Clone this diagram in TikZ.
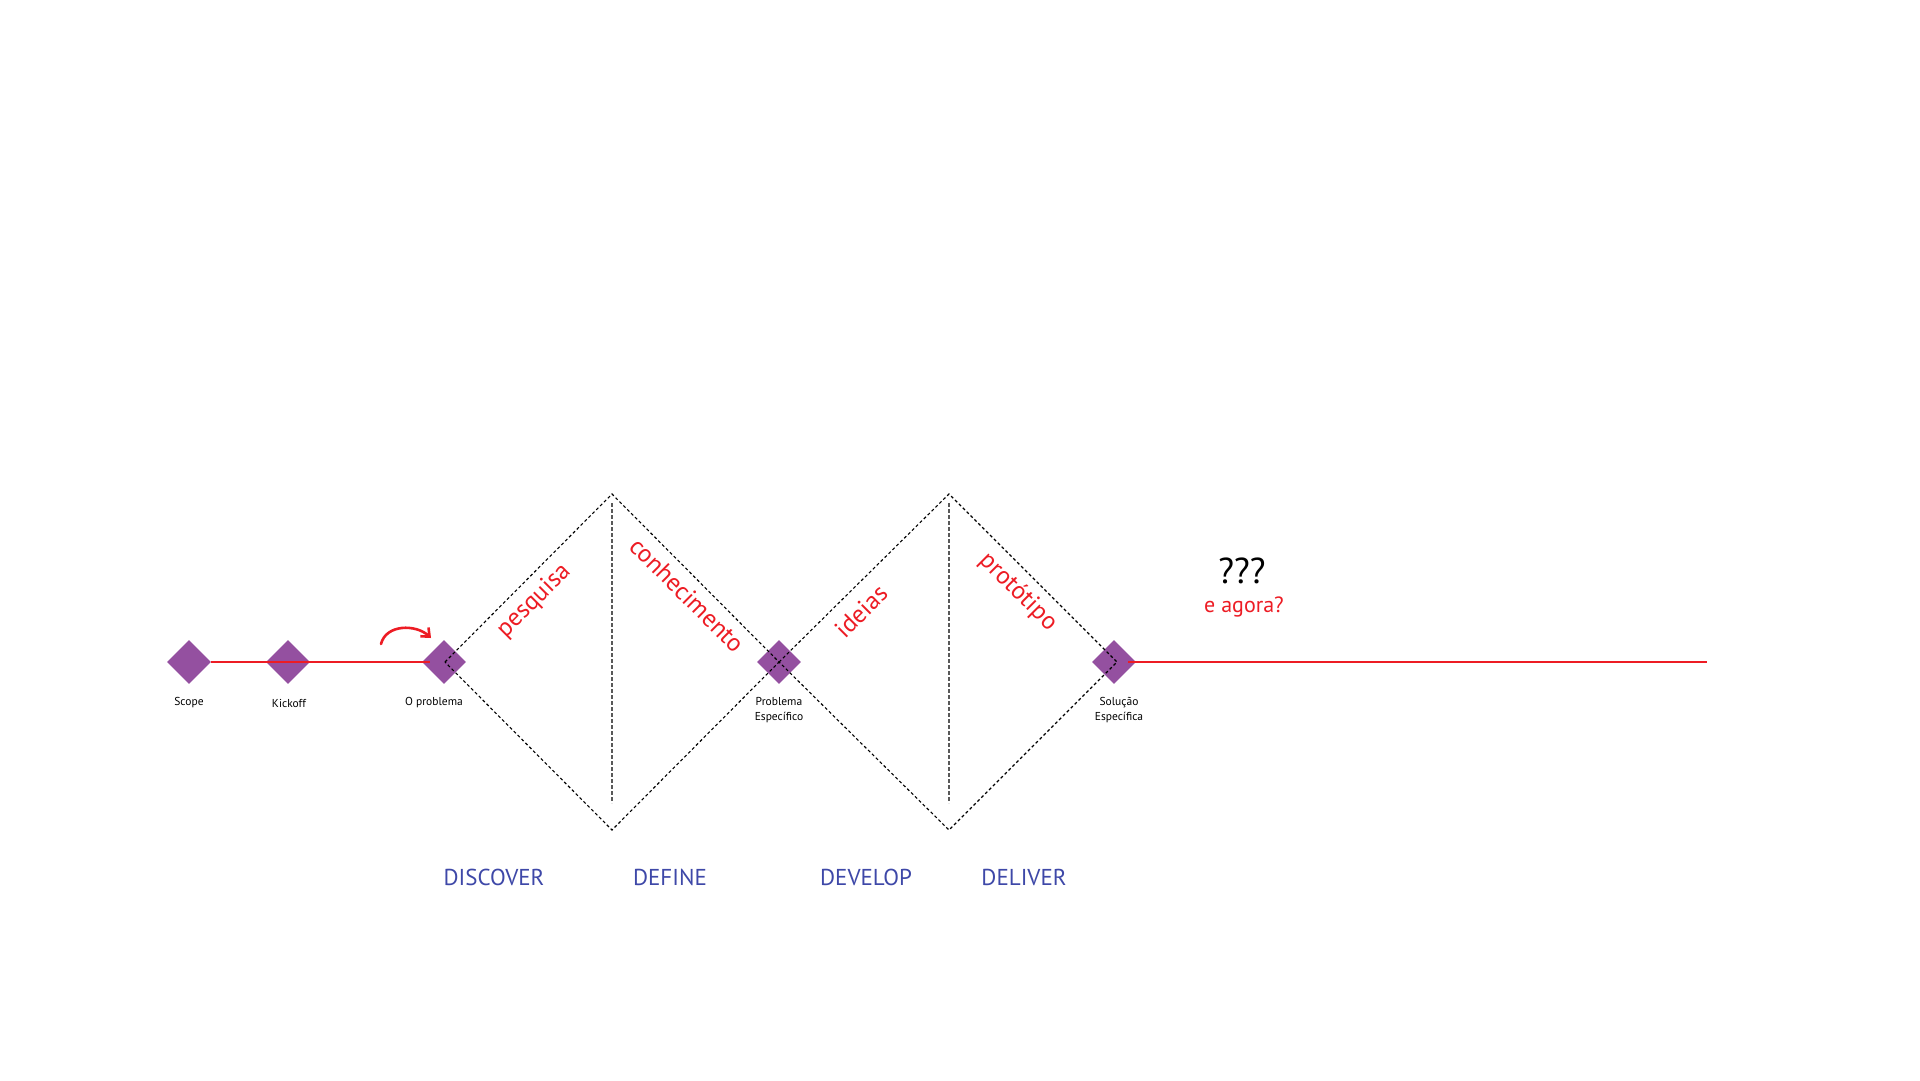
\documentclass[tikz,border=0pt]{standalone}
\usepackage{fontspec}
\setmainfont{PT Sans}
\usetikzlibrary{shapes.geometric,arrows.meta}
\definecolor{adred}{RGB}{237,28,36}
\definecolor{dpurple}{RGB}{148,80,160}
\definecolor{dblue}{RGB}{62,72,168}
\begin{document}
\begin{tikzpicture}[x=1pt,y=-1pt,
  milestone/.style={diamond, fill=dpurple, draw=none, inner sep=0pt, minimum width=44pt, minimum height=44pt},
  smalllabel/.style={font=\fontsize{11.5}{14.5}\selectfont, align=center, text=black, inner sep=0pt},
  phase/.style={font=\fontsize{23}{28}\selectfont, text=dblue, inner sep=0pt},
  redlabel/.style={font=\fontsize{25}{30}\selectfont, text=adred, inner sep=0pt},
  redline/.style={draw=adred, line width=1.2pt},
  dline/.style={draw=black, line width=1.1pt, dash pattern=on 3pt off 2.5pt},
  vline/.style={draw=black!65, line width=1.1pt, dash pattern=on 3.5pt off 2.5pt}]
\useasboundingbox[fill=white] (0,0) rectangle (1920,1080);

% milestones
\node[milestone] (scope) at (189,662) {};
\node[milestone] (kick) at (288,662) {};
\node[milestone] (prob) at (444,662) {};
\node[milestone] (pesp) at (779,662) {};
\node[milestone] (sol) at (1114,662) {};

% coordinates
\coordinate (d1l) at (445,662);
\coordinate (d1t) at (612,494);
\coordinate (d1r) at (779,662);
\coordinate (d1b) at (612,830);
\coordinate (d2t) at (949,494);
\coordinate (d2r) at (1117,662);
\coordinate (d2b) at (949,830);
\coordinate (v1t) at (612,503);
\coordinate (v1b) at (612,803);
\coordinate (v2t) at (949,503);
\coordinate (v2b) at (949,803);
\coordinate (r1e) at (430,662);
\coordinate (r2s) at (1128,662);
\coordinate (r2e) at (1707,662);
\coordinate (a1) at (381,644);
\coordinate (a2) at (431,638);

% lines
\draw[redline] (scope.east) -- (r1e);
\draw[redline] (r2s) -- (r2e);
\draw[dline] (d1l) -- (d1t) -- (d1r) -- (d1b) -- cycle;
\draw[dline] (d1r) -- (d2t) -- (d2r) -- (d2b) -- cycle;
\draw[vline] (v1t) -- (v1b);
\draw[vline] (v2t) -- (v2b);
\draw[adred, line width=2.6pt, line cap=round, -{Straight Barb[length=7pt,width=12pt]}] (a1) .. controls (386,624) and (416,624) .. (a2);

% milestone labels
\node[smalllabel] (lscope) at (189,703) {Scope};
\node[smalllabel] (lkick) at (289,703) {Kickoff};
\node[smalllabel] (lprob) at (434,703) {O problema};
\node[smalllabel] (lpesp) at (779,710) {Problema\\Específico};
\node[smalllabel] (lsol) at (1119,710) {Solução\\Específica};

% red diagonal labels
\node[redlabel, rotate=45] (tpesq) at (534,601) {pesquisa};
\node[redlabel, rotate=-45] (tconh) at (687,595) {conhecimento};
\node[redlabel, rotate=45] (tidei) at (861,611) {ideias};
\node[redlabel, rotate=-45] (tprot) at (1018,592) {protótipo};

% phases
\node[phase] (pdisc) at (494,877) {DISCOVER};
\node[phase] (pdef) at (670,877) {DEFINE};
\node[phase] (pdev) at (866,877) {DEVELOP};
\node[phase] (pdel) at (1024,877) {DELIVER};

% question
\node[font=\fontsize{36}{40}\selectfont, text=black, inner sep=0pt] (qq) at (1242,571) {???};
\node[font=\fontsize{22}{26}\selectfont, text=adred, inner sep=0pt] (eag) at (1244,607) {e agora?};
\end{tikzpicture}
\end{document}
